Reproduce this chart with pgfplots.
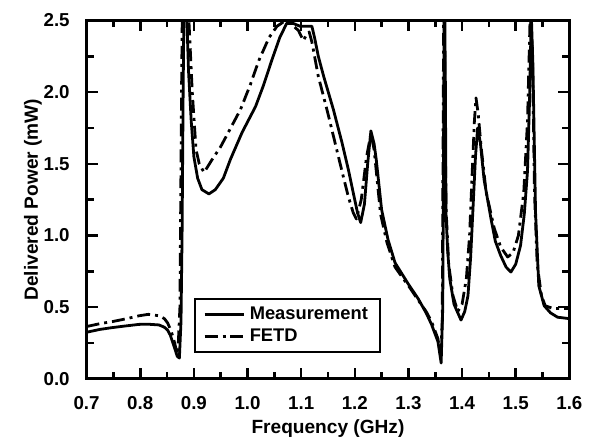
\documentclass[border=0pt]{standalone}
\usepackage{pgfplots}
\pgfplotsset{compat=1.18}
\usepackage{fontspec}
\setmainfont{Liberation Sans}
\begin{document}
\begin{tikzpicture}
\begin{axis}[
  scale only axis,
  width=242.5pt, height=180pt,
  xmin=0.7, xmax=1.6, ymin=0, ymax=2.5,
  xtick distance=0.1, ytick distance=0.5,
  minor x tick num=1, minor y tick num=1,
  tick align=inside,
  major tick length=5.5pt, minor tick length=3.5pt,
  every tick/.style={line width=1.3pt, black},
  axis line style={line width=1.5pt},
  /pgf/number format/fixed,
  /pgf/number format/fixed zerofill,
  /pgf/number format/precision=1,
  /pgf/number format/assume math mode=true,
  xticklabel style={font=\fontsize{9.4}{11}\selectfont\bfseries, yshift=-5.5pt},
  yticklabel style={font=\fontsize{9.4}{11}\selectfont\bfseries, xshift=-5pt},
  xlabel={Frequency (GHz)},
  ylabel={Delivered Power (mW)},
  xlabel style={font=\fontsize{9.6}{11}\selectfont\bfseries, yshift=2pt},
  ylabel style={font=\fontsize{9.6}{11}\selectfont\bfseries, yshift=-6pt},
  legend style={at={(0.223,0.072)}, anchor=south west, draw=black, line width=1pt,
    font=\fontsize{9.2}{11}\selectfont\bfseries, legend cell align=left,
    inner xsep=4pt, inner ysep=2pt, row sep=-1pt},
  legend image code/.code={\draw[#1] (0pt,0pt) -- (20pt,0pt);},
]
\addplot[black, line width=1.4pt, line join=round] coordinates {
(0.700,0.325) (0.725,0.345) (0.749,0.358) (0.775,0.370) (0.798,0.380) (0.815,0.381) (0.835,0.376)
(0.845,0.360) (0.851,0.340) (0.856,0.305) (0.860,0.260) (0.865,0.205) (0.869,0.157) (0.873,0.145)
(0.876,0.40) (0.878,1.00) (0.880,2.00) (0.882,2.80) (0.884,2.90) (0.887,2.50) (0.890,2.15)
(0.895,1.80) (0.900,1.55) (0.907,1.40) (0.915,1.32) (0.928,1.29) (0.940,1.32) (0.955,1.40)
(0.968,1.53) (0.990,1.72) (1.015,1.90) (1.030,2.05) (1.045,2.22) (1.060,2.38) (1.073,2.48)
(1.085,2.48) (1.098,2.46) (1.120,2.46) (1.125,2.38) (1.132,2.25) (1.142,2.11) (1.160,1.88)
(1.176,1.65) (1.188,1.46) (1.197,1.30) (1.205,1.16) (1.211,1.09) (1.218,1.22) (1.224,1.50)
(1.230,1.73) (1.236,1.64) (1.240,1.53) (1.250,1.18) (1.262,0.97) (1.275,0.81) (1.290,0.72)
(1.300,0.66) (1.318,0.56) (1.333,0.46) (1.343,0.38) (1.355,0.26) (1.361,0.11) (1.364,0.50)
(1.366,2.00) (1.367,2.90) (1.369,2.00) (1.370,1.16) (1.373,0.90) (1.377,0.70) (1.385,0.52)
(1.398,0.41) (1.405,0.47) (1.411,0.58) (1.416,0.85) (1.420,1.16) (1.425,1.55) (1.429,1.75)
(1.434,1.65) (1.441,1.39) (1.454,1.115) (1.462,0.96) (1.472,0.86) (1.482,0.78) (1.491,0.745)
(1.500,0.80) (1.509,0.93) (1.516,1.15) (1.522,1.45) (1.526,1.97) (1.529,2.55) (1.532,2.20)
(1.537,1.16) (1.543,0.65) (1.553,0.51) (1.565,0.46) (1.578,0.43) (1.600,0.42)
};
\addlegendentry{Measurement}
\addplot[black, line width=1.4pt, line join=round, dash pattern=on 6.5pt off 2.5pt on 1.5pt off 2.5pt] coordinates {
(0.700,0.365) (0.725,0.385) (0.749,0.400) (0.775,0.420) (0.798,0.440) (0.815,0.450) (0.835,0.440)
(0.845,0.420) (0.851,0.390) (0.857,0.340) (0.862,0.280) (0.866,0.220) (0.870,0.170)
(0.874,0.50) (0.877,2.00) (0.879,2.80) (0.882,2.90) (0.886,2.60) (0.891,2.48) (0.897,2.00)
(0.904,1.60) (0.910,1.50) (0.919,1.44) (0.934,1.53) (0.950,1.62) (0.970,1.76) (0.987,1.88)
(1.005,2.05) (1.021,2.22) (1.040,2.38) (1.055,2.46) (1.067,2.49) (1.080,2.48) (1.095,2.43)
(1.104,2.36) (1.110,2.40) (1.115,2.42) (1.120,2.35) (1.132,2.11) (1.148,1.88) (1.163,1.65)
(1.176,1.45) (1.188,1.27) (1.197,1.16) (1.203,1.115) (1.212,1.25) (1.222,1.55) (1.230,1.71)
(1.236,1.60) (1.240,1.45) (1.248,1.15) (1.260,0.95) (1.275,0.78) (1.290,0.70) (1.300,0.65)
(1.318,0.55) (1.333,0.47) (1.343,0.40) (1.355,0.28) (1.360,0.16) (1.363,0.40) (1.365,2.00)
(1.366,2.90) (1.368,2.00) (1.370,1.20) (1.375,0.80) (1.383,0.58) (1.392,0.47) (1.400,0.52)
(1.408,0.70) (1.414,1.00) (1.419,1.45) (1.423,1.80) (1.426,1.96) (1.430,1.85) (1.436,1.60)
(1.445,1.30) (1.460,1.05) (1.472,0.92) (1.485,0.85) (1.495,0.88) (1.505,1.00) (1.515,1.30)
(1.522,1.80) (1.527,2.55) (1.531,2.30) (1.535,1.30) (1.540,0.80) (1.548,0.58) (1.555,0.51)
(1.570,0.49) (1.600,0.49)
};
\addlegendentry{FETD}
\end{axis}
\path (current axis.south west) ++(-43.5pt,-33.5pt);
\path (current axis.north east) ++(8pt,10.3pt);
\end{tikzpicture}
\end{document}
